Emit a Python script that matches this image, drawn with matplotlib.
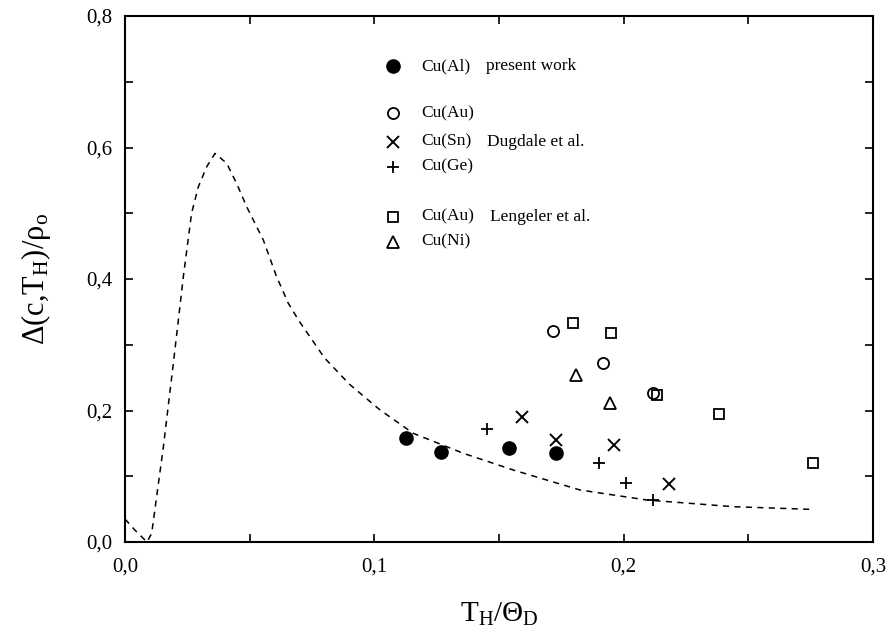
import matplotlib
matplotlib.use("Agg")
import matplotlib.pyplot as plt
from matplotlib.ticker import MultipleLocator, FuncFormatter

plt.rcParams['font.family'] = ['Liberation Serif', 'DejaVu Serif']
plt.rcParams['mathtext.fontset'] = 'custom'
plt.rcParams['mathtext.rm'] = 'Liberation Serif'
plt.rcParams['mathtext.it'] = 'Liberation Serif:italic'

# Data
cual_x = [0.1127, 0.1266, 0.1541, 0.1729]
cual_y = [0.1577, 0.1364, 0.1425, 0.1358]

cuau_d_x = [0.1718, 0.1918, 0.2116]
cuau_d_y = [0.3214, 0.2727, 0.2271]

cusn_x = [0.1594, 0.1729, 0.1960, 0.2181]
cusn_y = [0.1897, 0.1551, 0.1475, 0.0878]

cuge_x = [0.1453, 0.1901, 0.2009, 0.2119]
cuge_y = [0.1714, 0.1197, 0.0893, 0.0639]

cuau_l_x = [0.1798, 0.1949, 0.2134, 0.2382, 0.2761]
cuau_l_y = [0.3326, 0.3174, 0.2243, 0.1942, 0.1206]

cuni_x = [0.1809, 0.1945]
cuni_y = [0.2540, 0.2119]

curve_x = [0.0, 0.004, 0.0088, 0.0107, 0.0154, 0.0194, 0.0234, 0.0267, 0.0294,
           0.0328, 0.0361, 0.0408, 0.0448, 0.0488, 0.0555, 0.0608, 0.0655, 0.07,
           0.08, 0.09, 0.1023, 0.1156, 0.1357, 0.1557, 0.1825, 0.2092, 0.244, 0.2747]
curve_y = [0.035, 0.018, 0.0, 0.013, 0.145, 0.272, 0.4035, 0.50, 0.54,
           0.571, 0.591, 0.576, 0.545, 0.51, 0.459, 0.4035, 0.363, 0.335,
           0.28, 0.24, 0.2008, 0.1653, 0.1349, 0.1095, 0.0791, 0.0639, 0.0537, 0.0497]

x_ticks = [0.0, 0.1, 0.2, 0.3]
y_ticks = [0.0, 0.2, 0.4, 0.6, 0.8]

W, H = 888, 636
fig = plt.figure(figsize=(W / 100, H / 100), dpi=100)
ax = fig.add_axes([125 / W, 1 - 542 / H, 748 / W, 526 / H])

ax.plot(curve_x, curve_y, color='black', lw=1.1, linestyle=(0, (4, 3.5)))

ax.plot(cual_x, cual_y, 'o', color='black', ms=9.5, ls='none')
ax.plot(cuau_d_x, cuau_d_y, 'o', mfc='none', mec='black', mew=1.3, ms=8, ls='none')
ax.plot(cusn_x, cusn_y, 'x', color='black', mew=1.4, ms=9, ls='none')
ax.plot(cuge_x, cuge_y, '+', color='black', mew=1.3, ms=9, ls='none')
ax.plot(cuau_l_x, cuau_l_y, 's', mfc='none', mec='black', mew=1.3, ms=7.5, ls='none')
ax.plot(cuni_x, cuni_y, '^', mfc='none', mec='black', mew=1.3, ms=9, ls='none')

ax.set_xlim(0, 0.3)
ax.set_ylim(0, 0.8)
ax.set_xticks(x_ticks)
ax.set_yticks(y_ticks)
ax.xaxis.set_minor_locator(MultipleLocator(0.05))
ax.yaxis.set_minor_locator(MultipleLocator(0.1))
fmt = FuncFormatter(lambda v, p: f"{v:.1f}".replace('.', ','))
ax.xaxis.set_major_formatter(fmt)
ax.yaxis.set_major_formatter(fmt)
ax.tick_params(which='both', direction='in', top=True, right=True,
               length=6, width=1.2, labelsize=15)
ax.tick_params(axis='x', pad=11)
ax.tick_params(axis='y', pad=9)
for s in ax.spines.values():
    s.set_linewidth(1.5)

ax.set_xlabel(r'T$_{\mathrm{H}}$/Θ$_{\mathrm{D}}$', fontsize=21, labelpad=18)
ax.set_ylabel(r'Δ(c,T$_{\mathrm{H}}$)/ρ$_{\mathrm{o}}$', fontsize=22, labelpad=24)

# in-plot legend
mx, tx = 0.3587, 0.3967
fs = 12.5
entries = [
    (0.905, dict(marker='o', color='black', ms=9.5), 'Cu(Al)', 'present work', 0.482),
    (0.815, dict(marker='o', mfc='none', mec='black', mew=1.3, ms=8), 'Cu(Au)', None, None),
    (0.761, dict(marker='x', color='black', mew=1.4, ms=9), 'Cu(Sn)', 'Dugdale et al.', 0.4836),
    (0.7135, dict(marker='+', color='black', mew=1.3, ms=9), 'Cu(Ge)', None, None),
    (0.6184, dict(marker='s', mfc='none', mec='black', mew=1.3, ms=7.5), 'Cu(Au)', 'Lengeler et al.', 0.488),
    (0.571, dict(marker='^', mfc='none', mec='black', mew=1.3, ms=9), 'Cu(Ni)', None, None),
]
for y, mk, lab, extra, ex in entries:
    ax.plot([mx], [y], transform=ax.transAxes, ls='none', clip_on=False, **mk)
    ax.text(tx, y, lab, transform=ax.transAxes, fontsize=fs, va='center', ha='left')
    if extra:
        ax.text(ex, y, extra, transform=ax.transAxes, fontsize=fs, va='center', ha='left')

fig.savefig('out.png', dpi=100)
